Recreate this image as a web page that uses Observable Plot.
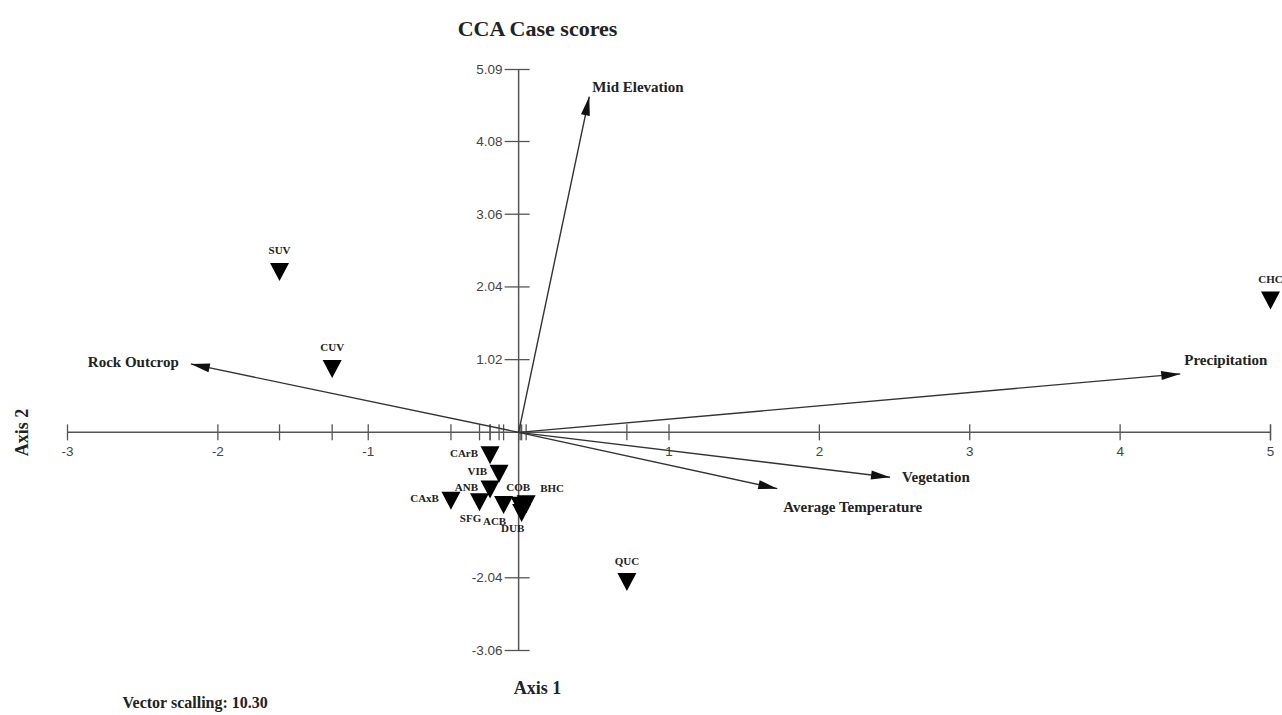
<!DOCTYPE html>
<html><head><meta charset="utf-8">
<script src="https://cdn.jsdelivr.net/npm/d3@7"></script>
<script src="https://cdn.jsdelivr.net/npm/@observablehq/plot@0.6"></script>
<style>body{margin:0;background:#fff}</style>
</head><body><div id="chart"></div>
<script>
// ---- data ----
const species = ["SUV","CUV","CHC","QUC","CArB","VIB","ANB","SFG","CAxB","ACB","COB","BHC","DUB"];
const axis1   = [-1.59,-1.24,5.00,0.72,-0.19,-0.13,-0.19,-0.26,-0.45,-0.10,0.01,0.05,0.02];
const axis2   = [ 2.25, 0.89,1.85,-2.10,-0.32,-0.58,-0.80,-0.98,-0.96,-1.02,-1.03,-1.01,-1.13];
const vectorNames = ["Mid Elevation","Precipitation","Rock Outcrop","Vegetation","Average Temperature"];
const vectorX = [0.47, 4.40, -2.18, 2.47, 1.72];
const vectorY = [4.71, 0.82, 0.96, -0.63, -0.79];
const xTicks = [-3,-2,-1,1,2,3,4,5];
const xTickLabels = ["-3","-2","-1","1","2","3","4","5"];
const yTicks = [5.09,4.08,3.06,2.04,1.02,-2.04,-3.06];
const yTickLabels = ["5.09","4.08","3.06","2.04","1.02","-2.04","-3.06"];
const titleText = "CCA Case scores";
const xLabel = "Axis 1", yLabel = "Axis 2";
const captionText = "Vector scalling: 10.30";

// ---- layout / style (not data) ----
const speciesLabelPlace = ["above","above","above","above","left","left","left","below","left","below","aboveClose","aboveRight","below"];
const placeSpec = {
  above:{dx:0,dy:-21,textAnchor:"middle"},
  aboveClose:{dx:-2,dy:-18,textAnchor:"middle"},
  aboveRight:{dx:26,dy:-16,textAnchor:"middle"},
  left:{dx:-12,dy:-2,textAnchor:"end"},
  below:{dx:-9,dy:16,textAnchor:"middle"}
};
const vectorLabelPlace = [
  {dx:3,dy:-9,textAnchor:"start"},
  {dx:4,dy:-14,textAnchor:"start"},
  {dx:-12,dy:-2,textAnchor:"end"},
  {dx:12,dy:0,textAnchor:"start"},
  {dx:6,dy:19,textAnchor:"start"}
];
const SERIF = "'Liberation Serif','Times New Roman',serif";
const SANS = "'Liberation Sans',Arial,sans-serif";
const xDomain=[-3,5], yDomain=[-3.06,5.09];
const xRange=[67,1270], yRange=[650,69];
const kx=(xRange[1]-xRange[0])/(xDomain[1]-xDomain[0]);
const ky=(yRange[0]-yRange[1])/(yDomain[1]-yDomain[0]);

const pts = species.map((s,i)=>({name:s,x:axis1[i],y:axis2[i],place:speciesLabelPlace[i]}));
const vecs = vectorNames.map((n,i)=>({name:n,x:vectorX[i],y:vectorY[i],
  angle:Math.atan2(vectorX[i]*kx, vectorY[i]*ky)*180/Math.PI}));

const arrowHead = {draw(c){c.moveTo(0,0);c.lineTo(-4.5,19);c.lineTo(4.5,19);c.closePath();}};
const downTri = {draw(c){c.moveTo(-9.5,-9);c.lineTo(9.5,-9);c.lineTo(0,9);c.closePath();}};
const vTick = {draw(c){c.moveTo(0,-8);c.lineTo(0,8);}};
const hTick = {draw(c){c.moveTo(-14,0);c.lineTo(11,0);}};
const AX="#555";
const frameText = {frameAnchor:"top-left",lineAnchor:"middle",fontWeight:"bold",fontFamily:SERIF,fill:"#222"};

const marks = [
  // axes
  Plot.ruleY([0],{x1:xDomain[0],x2:xDomain[1],stroke:AX,strokeWidth:1.5}),
  Plot.ruleX([0],{y1:yDomain[0],y2:yDomain[1],stroke:AX,strokeWidth:1.5}),
  Plot.dot(xTicks,{x:d=>d,y:()=>0,symbol:vTick,stroke:AX,strokeWidth:1.3,fill:"none"}),
  Plot.dot(pts,{x:"x",y:()=>0,symbol:vTick,stroke:AX,strokeWidth:1.3,fill:"none"}),
  Plot.dot(yTicks,{x:()=>0,y:d=>d,symbol:hTick,stroke:AX,strokeWidth:1.3,fill:"none"}),
  Plot.text(xTicks,{x:d=>d,y:()=>0,text:(d,i)=>xTickLabels[i],dy:19,fontSize:13.5,fontFamily:SANS,fill:"#444"}),
  Plot.text(yTicks,{x:()=>0,y:d=>d,text:(d,i)=>yTickLabels[i],dx:-16,textAnchor:"end",fontSize:13.5,fontFamily:SANS,fill:"#444"}),
  // vectors
  Plot.link(vecs,{x1:()=>0,y1:()=>0,x2:"x",y2:"y",stroke:"#333",strokeWidth:1.4}),
  Plot.dot(vecs,{x:"x",y:"y",rotate:"angle",symbol:arrowHead,fill:"#111",stroke:"none"}),
  ...vecs.map((v,i)=>Plot.text([v],{x:"x",y:"y",text:"name",...vectorLabelPlace[i],fontSize:15,fontWeight:"bold",fontFamily:SERIF,fill:"#222"})),
  // species
  Plot.dot(pts,{x:"x",y:"y",symbol:downTri,fill:"#000",stroke:"none"}),
  ...Object.keys(placeSpec).map(k=>Plot.text(pts.filter(p=>p.place===k),{x:"x",y:"y",text:"name",...placeSpec[k],fontSize:11,fontWeight:"bold",fontFamily:SERIF,fill:"#222"})),
  // frame texts
  Plot.text([titleText],{text:d=>d,...frameText,dx:537,dy:28,textAnchor:"middle",fontSize:22}),
  Plot.text([xLabel],{text:d=>d,...frameText,dx:537,dy:688,textAnchor:"middle",fontSize:18}),
  Plot.text([yLabel],{text:d=>d,...frameText,dx:22,dy:432,rotate:-90,textAnchor:"middle",fontSize:18}),
  Plot.text([captionText],{text:d=>d,...frameText,dx:122,dy:702,textAnchor:"start",fontSize:16})
];

const chart = Plot.plot({
  width:1282,height:715,margin:0,
  style:{background:"#fff",fontFamily:SERIF,overflow:"visible"},
  x:{domain:xDomain,range:xRange,axis:null},
  y:{domain:yDomain,range:yRange,axis:null},
  marks
});
document.getElementById("chart").appendChild(chart);
</script>
</body></html>
